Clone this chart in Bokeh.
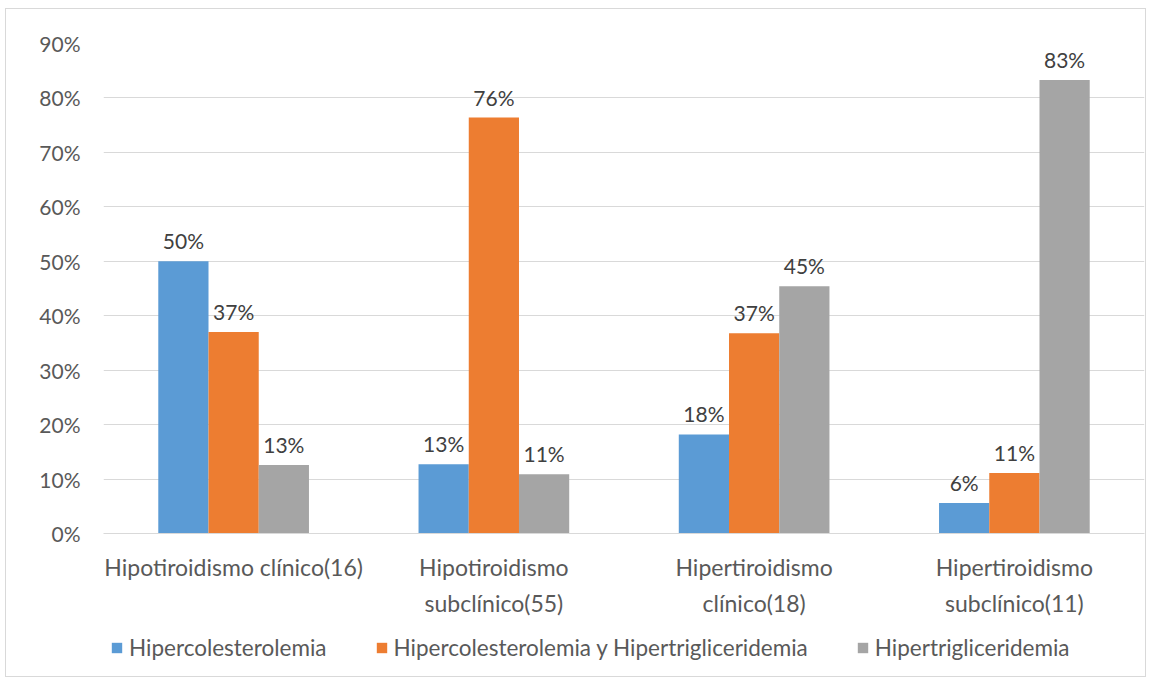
from bokeh.plotting import figure
from bokeh.layouts import column
from bokeh.models import FactorRange, Range1d, FixedTicker, PrintfTickFormatter, ColumnDataSource, Legend, LegendItem
from bokeh.transform import dodge
from bokeh.core.properties import value
from bokeh.embed import file_html
from bokeh.resources import INLINE

categories = ["Hipotiroidismo clínico(16)", "Hipotiroidismo\nsubclínico(55)",
              "Hipertiroidismo\nclínico(18)", "Hipertiroidismo\nsubclínico(11)"]
series_names = ["Hipercolesterolemia", "Hipercolesterolemia y Hipertrigliceridemia", "Hipertrigliceridemia"]
hipercolesterolemia = [50.0, 12.7, 18.2, 5.6]
ambas = [37.0, 76.4, 36.8, 11.1]
hipertrigliceridemia = [12.6, 10.9, 45.4, 83.3]
colors = ["#5b9bd5", "#ed7d31", "#a5a5a5"]
y_ticks = [0, 10, 20, 30, 40, 50, 60, 70, 80, 90]

FONT = "Lato"
TXT = "#595959"
W = 1139

p = figure(x_range=FactorRange(*categories), y_range=Range1d(0, 90),
           width=W, height=612, output_backend="svg", toolbar_location=None,
           min_border_left=97, min_border_right=1, min_border_top=34, min_border_bottom=88)
p.outline_line_color = None
p.background_fill_color = "white"
p.border_fill_color = "white"

bw = 0.193
offsets = [-bw, 0.0, bw]
all_vals = [hipercolesterolemia, ambas, hipertrigliceridemia]
for vals, off, col in zip(all_vals, offsets, colors):
    src = ColumnDataSource(dict(x=categories, y=vals, lab=["%d%%" % round(v) for v in vals]))
    p.vbar(x=dodge("x", off, range=p.x_range), top="y", width=bw, source=src,
           fill_color=col, line_color=None)
    p.text(x=dodge("x", off, range=p.x_range), y="y", text="lab", source=src,
           text_align="center", text_baseline="bottom", y_offset=-8,
           text_font=value(FONT), text_font_size="21px", text_color="#404040")

p.yaxis.ticker = FixedTicker(ticks=y_ticks)
p.yaxis.formatter = PrintfTickFormatter(format="%d%%")
p.yaxis.axis_line_color = None
p.yaxis.major_tick_line_color = None
p.yaxis.minor_tick_line_color = None
p.yaxis.major_label_standoff = 17
p.yaxis.major_label_text_font = FONT
p.yaxis.major_label_text_font_size = "21px"
p.yaxis.major_label_text_color = TXT

p.xaxis.axis_line_color = "#d9d9d9"
p.xaxis.major_tick_line_color = None
p.xaxis.minor_tick_line_color = None
p.xaxis.major_label_standoff = 13
p.xaxis.major_label_text_font = FONT
p.xaxis.major_label_text_font_size = "23px"
p.xaxis.major_label_text_color = TXT
p.xaxis.major_label_text_line_height = 1.3

p.xgrid.grid_line_color = None
p.ygrid.grid_line_color = "#d9d9d9"
p.ygrid.grid_line_width = 1

# legend strip (swatches only, no data marks)
NAN = float("nan")
lg = figure(width=W, height=55, output_backend="svg", toolbar_location=None,
            min_border=0, x_axis_location=None, y_axis_location=None,
            x_range=Range1d(0, 1), y_range=Range1d(0, 1))
lg.outline_line_color = None
lg.grid.visible = False
items = []
for name, col in zip(series_names, colors):
    r = lg.vbar(x=[NAN], top=[NAN], width=0.1, fill_color=col, line_color=None)
    items.append(LegendItem(label=name, renderers=[r]))
legend = Legend(items=items, orientation="horizontal", location=(7, 15),
                padding=0, margin=0, spacing=48, label_standoff=6,
                glyph_width=13, glyph_height=13,
                label_text_font=FONT, label_text_font_size="22.5px", label_text_color=TXT,
                background_fill_alpha=0, border_line_color=None)
lg.add_layout(legend, "center")

layout = column(p, lg, spacing=0)
layout.styles = {"border": "1px solid #d9d9d9", "margin-left": "5px", "margin-top": "8px"}

open("out.html", "w").write(file_html(layout, INLINE))
